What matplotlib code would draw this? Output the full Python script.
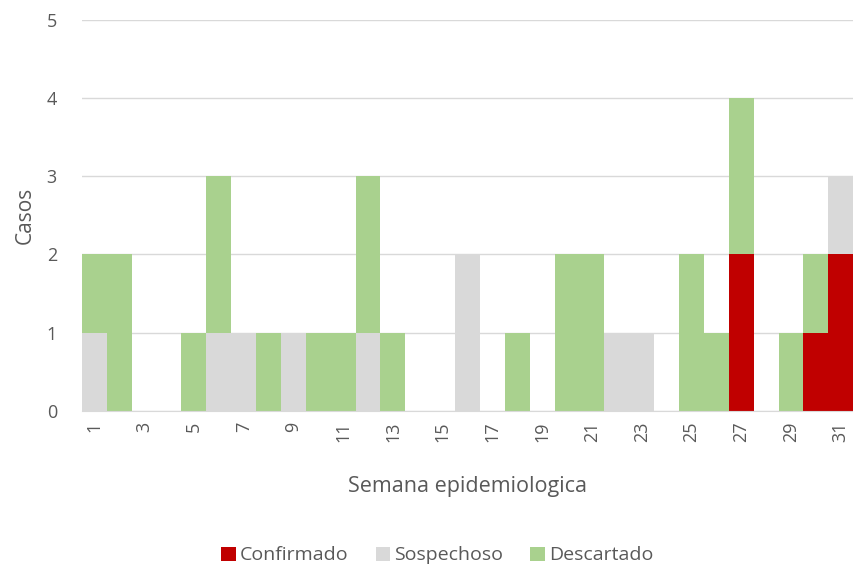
import numpy as np
import matplotlib.pyplot as plt

plt.rcParams['font.family'] = ['Open Sans', 'DejaVu Sans']

semanas = np.arange(1, 32)
confirmado = [0, 0, 0, 0, 0, 0, 0, 0, 0, 0, 0, 0, 0, 0, 0, 0, 0, 0, 0, 0, 0, 0, 0, 0, 0, 0, 2, 0, 0, 1, 2]
sospechoso = [1, 0, 0, 0, 0, 1, 1, 0, 1, 0, 0, 1, 0, 0, 0, 2, 0, 0, 0, 0, 0, 1, 1, 0, 0, 0, 0, 0, 0, 0, 1]
descartado = [1, 2, 0, 0, 1, 2, 0, 1, 0, 1, 1, 2, 1, 0, 0, 0, 0, 1, 0, 2, 2, 0, 0, 0, 2, 1, 2, 0, 1, 1, 0]

c_conf = '#C00000'
c_sosp = '#D9D9D9'
c_desc = '#A9D18E'
txt = '#595959'

fig = plt.figure(figsize=(8.54, 5.65), dpi=100)
ax = fig.add_axes([0.096, 0.273, 0.903, 0.692])

conf = np.array(confirmado)
sosp = np.array(sospechoso)
desc = np.array(descartado)
ax.bar(semanas, conf, width=1.0, color=c_conf, label='Confirmado', zorder=2)
ax.bar(semanas, sosp, width=1.0, bottom=conf, color=c_sosp, label='Sospechoso', zorder=2)
ax.bar(semanas, desc, width=1.0, bottom=conf + sosp, color=c_desc, label='Descartado', zorder=2)

ax.set_xlim(0.5, 31.5)
ax.set_ylim(0, 5)
ax.set_yticks(range(0, 6))
ax.set_xticks(semanas[::2])
ax.set_xticklabels([str(s) for s in semanas[::2]], rotation=90)
ax.yaxis.grid(True, color='#D9D9D9', linewidth=1, zorder=0)
ax.set_axisbelow(True)
for s in ['top', 'right', 'left']:
    ax.spines[s].set_visible(False)
ax.spines['bottom'].set_color('#D9D9D9')
ax.tick_params(axis='both', length=0, labelsize=13, colors=txt, pad=8)
ax.tick_params(axis='y', pad=18)

ax.set_xlabel('Semana epidemiologica', fontsize=15.5, color=txt, labelpad=24)
ax.set_ylabel('Casos', fontsize=15, color=txt, labelpad=8)

fig.legend(loc='lower center', bbox_to_anchor=(0.512, -0.03), ncol=3, frameon=False,
           fontsize=14, labelcolor=txt, handlelength=0.75, handleheight=0.75,
           handletextpad=0.2, columnspacing=1.4)

fig.savefig('out.png', dpi=100)
